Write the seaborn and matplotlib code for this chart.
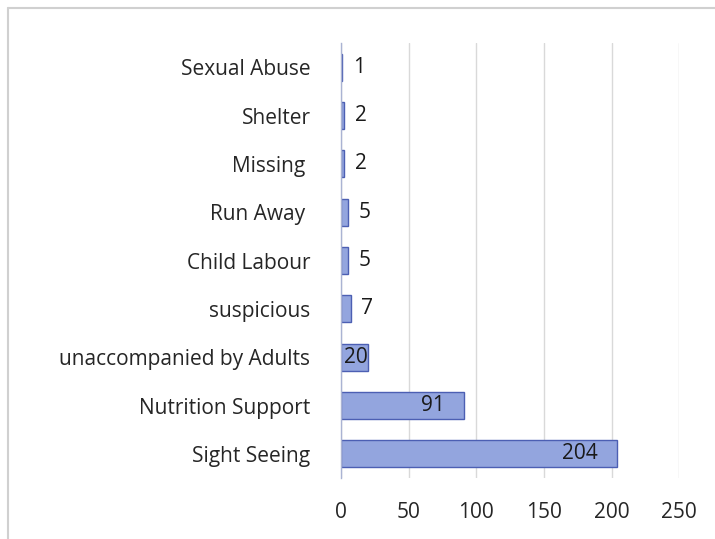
import matplotlib
matplotlib.use("Agg")
import matplotlib.pyplot as plt
from matplotlib.lines import Line2D
import seaborn as sns
import pandas as pd

categories = ["Sexual Abuse", "Shelter", "Missing ", "Run Away ", "Child Labour",
              "suspicious", "unaccompanied by Adults", "Nutrition Support", "Sight Seeing"]
counts = [1, 2, 2, 5, 5, 7, 20, 91, 204]
x_ticks = [0, 50, 100, 150, 200, 250]

df = pd.DataFrame({"category": categories, "count": counts})

sns.set_theme(style="white")
plt.rcParams["font.family"] = ["Open Sans", "DejaVu Sans"]

FS = 15

fig = plt.figure(figsize=(7.15, 5.39), dpi=100)
ax = fig.add_axes([0.477, 0.113, 0.473, 0.807])

sns.barplot(data=df, x="count", y="category", order=categories, orient="h",
            color="#93a5de", edgecolor="#4c5fb3", linewidth=1.0, width=0.56,
            saturation=1, ax=ax)

ax.set_xlim(0, 250)
ax.set_xticks(x_ticks)
ax.set_xticklabels([str(t) for t in x_ticks])
ax.set_xlabel("")
ax.set_ylabel("")
ax.grid(axis="x", color="#d9d9d9", linewidth=1.0)
ax.set_axisbelow(True)
for side in ["top", "right", "bottom"]:
    ax.spines[side].set_visible(False)
ax.spines["left"].set_color("#aab3d3")
ax.spines["left"].set_linewidth(1.0)
ax.tick_params(axis="both", length=0, labelsize=FS, colors="#262626")
ax.tick_params(axis="x", pad=17)
ax.tick_params(axis="y", pad=22)

# value labels: inside the bar end when it is long, outside otherwise
for i, v in enumerate(counts):
    if v >= 15:
        xpos = v - 14
        if xpos < 18:
            ax.text(2.5, i, str(v), ha="left", va="center", fontsize=FS, color="#1a1a1a")
        else:
            ax.text(xpos, i, str(v), ha="right", va="center", fontsize=FS, color="#1a1a1a")
    else:
        ax.text(v + 8, i, str(v), ha="left", va="center", fontsize=FS, color="#1a1a1a")

# chart-area frame
fig.add_artist(Line2D([8 / 715, 1.0], [1 - 8 / 539, 1 - 8 / 539],
                      transform=fig.transFigure, color="#d0d0d0", linewidth=1.5))
fig.add_artist(Line2D([8 / 715, 8 / 715], [0.0, 1 - 8 / 539],
                      transform=fig.transFigure, color="#d0d0d0", linewidth=1.5))

fig.savefig("out.png", dpi=100)
